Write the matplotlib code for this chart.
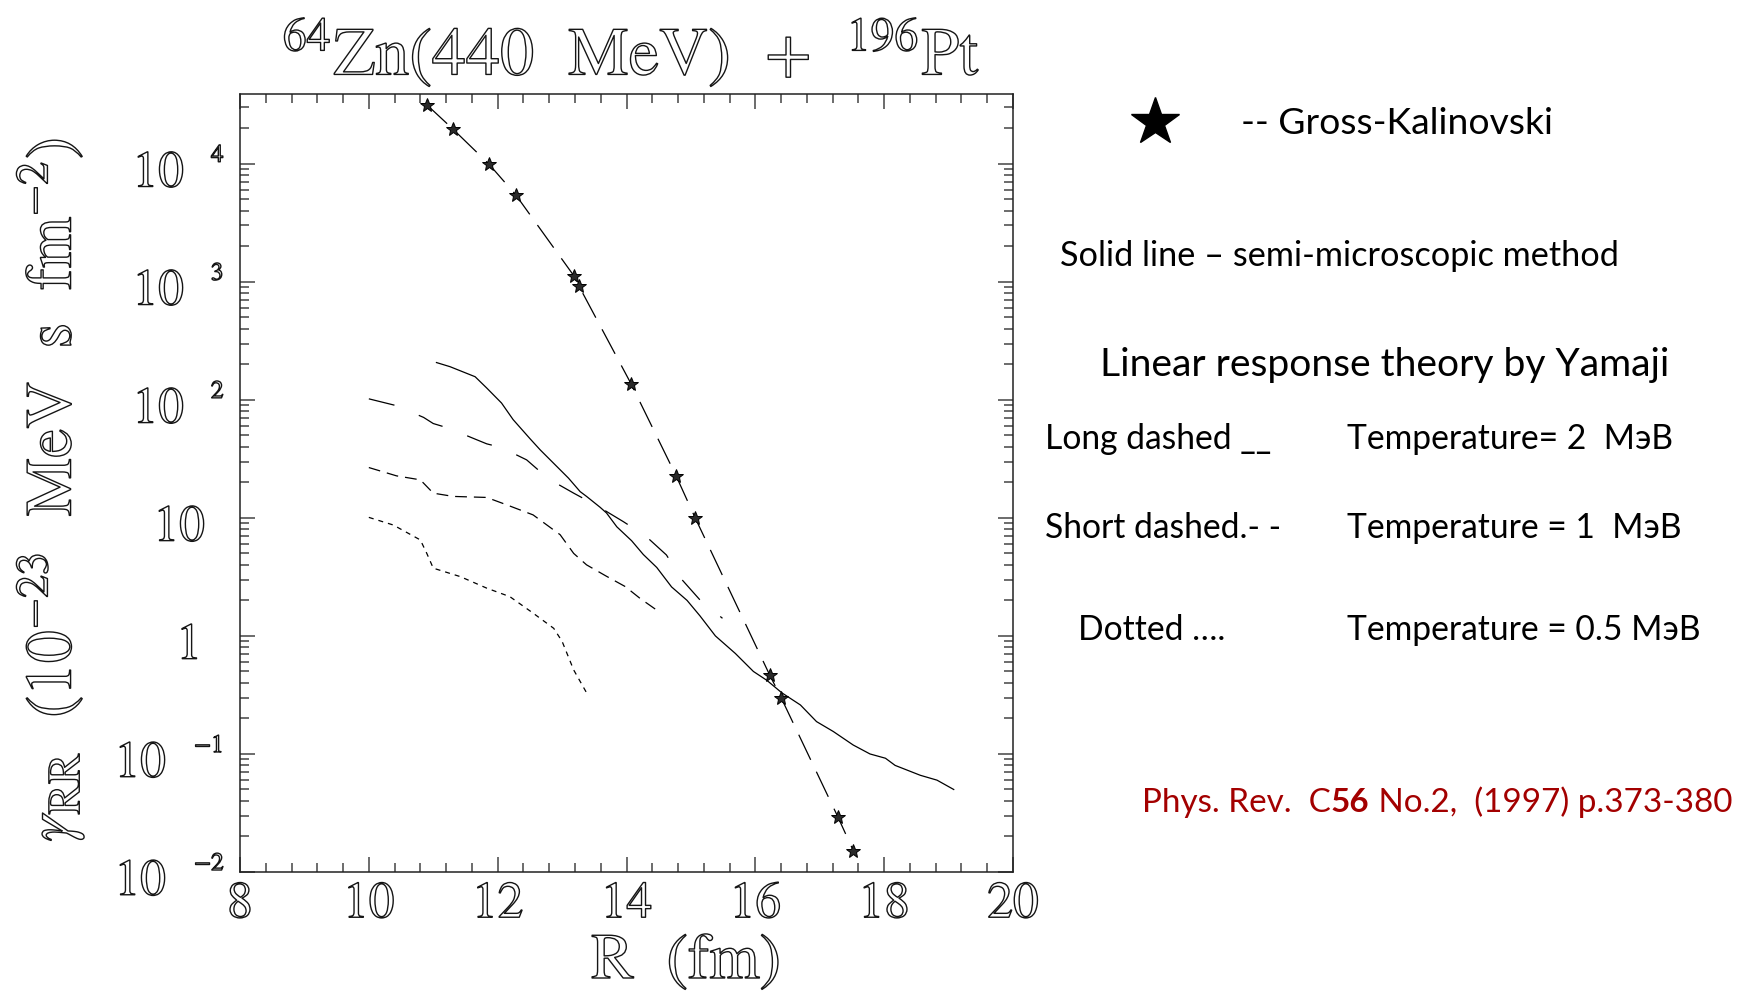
import matplotlib
matplotlib.use("Agg")
import matplotlib.pyplot as plt
import matplotlib.patheffects as pe
import matplotlib.transforms as mtransforms
from matplotlib.lines import Line2D
from matplotlib.ticker import LogLocator, MultipleLocator, NullFormatter

plt.rcParams["font.family"] = "STIXGeneral"
plt.rcParams["mathtext.fontset"] = "stix"
plt.rcParams["lines.scale_dashes"] = False

# ---- data -------------------------------------------------------------
# Gross-Kalinovski friction coefficient (stars)
gk_r = [10.90, 11.30, 11.86, 12.28, 13.18, 13.26, 14.07, 14.77, 15.07,
        16.22, 16.40, 17.28, 17.52]
gk_gamma = [3.16e4, 1.98e4, 1.0e4, 5.46e3, 1.13e3, 925, 137, 22.7, 9.9,
            0.47, 0.30, 0.0294, 0.0152]

# semi-microscopic method (solid)
semi_r = [11.05, 11.26, 11.65, 11.83, 12.06, 12.24, 12.50, 12.66, 12.92,
          13.10, 13.28, 13.38, 13.59, 13.69, 13.85, 14.08, 14.26, 14.47,
          14.70, 14.94, 15.14, 15.38, 15.69, 15.97, 16.18, 16.41, 16.70,
          16.95, 17.21, 17.52, 17.78, 18.02, 18.17, 18.56, 18.82, 19.08]
semi_gamma = [207, 191, 157, 126, 94, 68, 47, 37.7, 27.2,
              21.7, 16.7, 15.2, 12.3, 11.0, 8.4, 6.4, 4.9, 3.8,
              2.6, 2.0, 1.48, 1.0, 0.71, 0.50, 0.42, 0.33, 0.26,
              0.188, 0.155, 0.119, 0.100, 0.092, 0.080, 0.066, 0.060, 0.050]

# linear response theory, T = 2 MeV (long dashed)
t2_r = [10.0, 10.42, 10.85, 11.0, 11.24, 11.65, 11.83, 12.06, 12.45,
        12.79, 13.18, 13.56, 13.95, 14.30, 14.62, 14.86, 15.14, 15.49]
t2_gamma = [102, 89.5, 71, 63, 57.5, 46.5, 42.4, 39.4, 31,
            21.4, 16.2, 12.5, 9.3, 7.0, 4.85, 3.0, 2.02, 1.41]

# T = 1 MeV (short dashed)
t1_r = [10.0, 10.43, 10.80, 11.0, 11.31, 11.83, 12.14, 12.55, 12.97,
        13.18, 13.38, 13.69, 13.98, 14.21, 14.50]
t1_gamma = [26.7, 22.7, 21, 16.2, 15.2, 14.9, 12.9, 10.6, 7.2,
            5.0, 4.0, 3.2, 2.62, 2.08, 1.61]

# T = 0.5 MeV (dotted)
t05_r = [10.0, 10.38, 10.80, 10.90, 11.0, 11.42, 11.83, 12.19, 12.55,
         12.87, 13.0, 13.18, 13.38]
t05_gamma = [10.1, 8.7, 6.5, 5.0, 3.75, 3.18, 2.54, 2.15, 1.56,
             1.16, 0.90, 0.515, 0.33]

x_ticks = [8, 10, 12, 14, 16, 18, 20]
y_decades = [-2, -1, 0, 1, 2, 3, 4]

# ---- figure -----------------------------------------------------------
W, H = 1737, 991
fig = plt.figure(figsize=(W / 100, H / 100), dpi=100)
AX_L, AX_R, AX_T, AX_B = 240, 1013, 94, 872
ax = fig.add_axes([AX_L / W, 1 - AX_B / H, (AX_R - AX_L) / W, (AX_B - AX_T) / H])

HOLLOW = dict(color="white",
              path_effects=[pe.Stroke(linewidth=1.0, foreground="#151515")])

ax.plot(gk_r, gk_gamma, color="black", lw=0.9, ls=(0, (20, 9.5)),
        marker="*", ms=10, mfc="#2a2a2a", mec="black", mew=0.7)
ax.plot(semi_r, semi_gamma, color="black", lw=0.9, ls="-")
ax.plot(t2_r, t2_gamma, color="black", lw=0.9, ls=(0, (19, 19)))
ax.plot(t1_r, t1_gamma, color="black", lw=0.9, ls=(0, (8.5, 5.0)))
ax.plot(t05_r, t05_gamma, color="black", lw=0.9, ls=(0, (3.6, 3.6)))

ax.set_yscale("log")
ax.set_xlim(8, 20)
ax.set_ylim(1e-2, 3.9e4)

ax.yaxis.set_major_locator(LogLocator(base=10, numticks=20))
ax.yaxis.set_minor_locator(LogLocator(base=10, subs=range(2, 10), numticks=20))
ax.yaxis.set_major_formatter(NullFormatter())
ax.yaxis.set_minor_formatter(NullFormatter())
ax.xaxis.set_minor_locator(MultipleLocator(0.4))
ax.set_xticks(x_ticks)
ax.set_xticklabels([str(v) for v in x_ticks], fontsize=37, **HOLLOW)

ax.tick_params(which="both", direction="in", top=True, right=True,
               color="#444444", width=1.1)
ax.tick_params(which="major", length=11, pad=7)
ax.tick_params(which="minor", length=6.5)
for s in ax.spines.values():
    s.set_linewidth(1.1)
    s.set_color("#222222")

# y tick labels written as "10" followed by a raised exponent
ytrans = ax.get_yaxis_transform()
base_tr = mtransforms.offset_copy(ytrans, fig=fig, x=0, y=-5, units="dots")
exp_tr = mtransforms.offset_copy(ytrans, fig=fig, x=0, y=11, units="dots")


def ax_x(px):
    return (px - AX_L) / (AX_R - AX_L)


for d in y_decades:
    v = 10.0 ** d
    if d == 0:
        ax.text(ax_x(202), v, "1", transform=base_tr, ha="right",
                va="center_baseline", fontsize=37, **HOLLOW)
    elif d == 1:
        ax.text(ax_x(205), v, "10", transform=base_tr, ha="right",
                va="center_baseline", fontsize=37, **HOLLOW)
    else:
        right10 = 184 if d > 0 else 166
        left_exp = 211 if d > 0 else 194
        ax.text(ax_x(right10), v, "10", transform=base_tr, ha="right",
                va="center_baseline", fontsize=37, **HOLLOW)
        ax.text(ax_x(left_exp), v, str(d).replace("-", "\u2212"),
                transform=exp_tr, ha="left", va="center_baseline",
                fontsize=18, **HOLLOW)

# axis titles
ax.set_xlabel("R  (fm)", fontsize=44, va="baseline", **HOLLOW)
ax.xaxis.set_label_coords(ax_x(686), (AX_B - 978) / (AX_B - AX_T))
ax.set_ylabel(r"$\gamma_{\rm RR}$  (10$^{-23}$  MeV  s  fm$^{-2}$)",
              fontsize=44, va="center", ha="center", **HOLLOW)
ax.yaxis.set_label_coords(ax_x(50), (AX_B - 490) / (AX_B - AX_T))

title = fig.text(631 / W, 1 - 75 / H,
                 r"${}^{64}$Zn(440  MeV)  +  ${}^{196}$Pt",
                 ha="center", va="baseline", fontsize=46, **HOLLOW)

renderer = fig.canvas.get_renderer()


def fit(t, target, horizontal=True):
    for _ in range(3):
        bb = t.get_window_extent(renderer)
        size = bb.width if horizontal else bb.height
        t.set_fontsize(t.get_fontsize() * target / size)


fit(title, 698)
fit(ax.xaxis.label, 190)
fit(ax.yaxis.label, 704, horizontal=False)

# ---- annotations on the right ------------------------------------------
SANS = "Lato"


def note(x_px, base_px, s, size, color="black", weight="normal"):
    return fig.text(x_px / W, 1 - base_px / H, s, ha="left", va="baseline",
                    fontsize=size, family=SANS, color=color, fontweight=weight)


star_key = Line2D([1155 / W], [1 - 122 / H], marker="*", ms=36, color="black",
                  transform=fig.transFigure)
fig.add_artist(star_key)

gross = note(1241, 134, "-- Gross-Kalinovski", 22)
fit(gross, 312)
solid = note(1060, 266, "Solid line \u2013 semi-microscopic method", 22)
fit(solid, 561)

linear = note(1100, 376, "Linear response theory by Yamaji", 26)
fit(linear, 569)

rows = [
    (1045, 449, "Long dashed __", "Temperature= 2  M\u044dB"),
    (1045, 538, "Short dashed.- -", "Temperature = 1  M\u044dB"),
    (1078, 640, "Dotted \u2026.", "Temperature = 0.5 M\u044dB"),
]
row_texts = []
for x0, yb, left, right in rows:
    row_texts.append(note(x0, yb, left, 22))
    row_texts.append(note(1347, yb, right, 22))
fit(row_texts[-1], 353)
for t in row_texts:
    t.set_fontsize(row_texts[-1].get_fontsize())

# journal reference, with the volume number in bold
RED = "#A30000"
parts = [("Phys. Rev.  C", "normal"), ("56", "bold"),
         (" No.2,  (1997) p.373-380", "normal")]
ref_texts = [note(1142, 812, s, 22, RED, w) for s, w in parts]
for _ in range(3):
    widths = [t.get_window_extent(renderer).width for t in ref_texts]
    scale = 589 / sum(widths)
    for t in ref_texts:
        t.set_fontsize(t.get_fontsize() * scale)
widths = [t.get_window_extent(renderer).width for t in ref_texts]
x = 1142
for t, w in zip(ref_texts, widths):
    t.set_x(x / W)
    x += w

fig.savefig("out.png", dpi=100)
